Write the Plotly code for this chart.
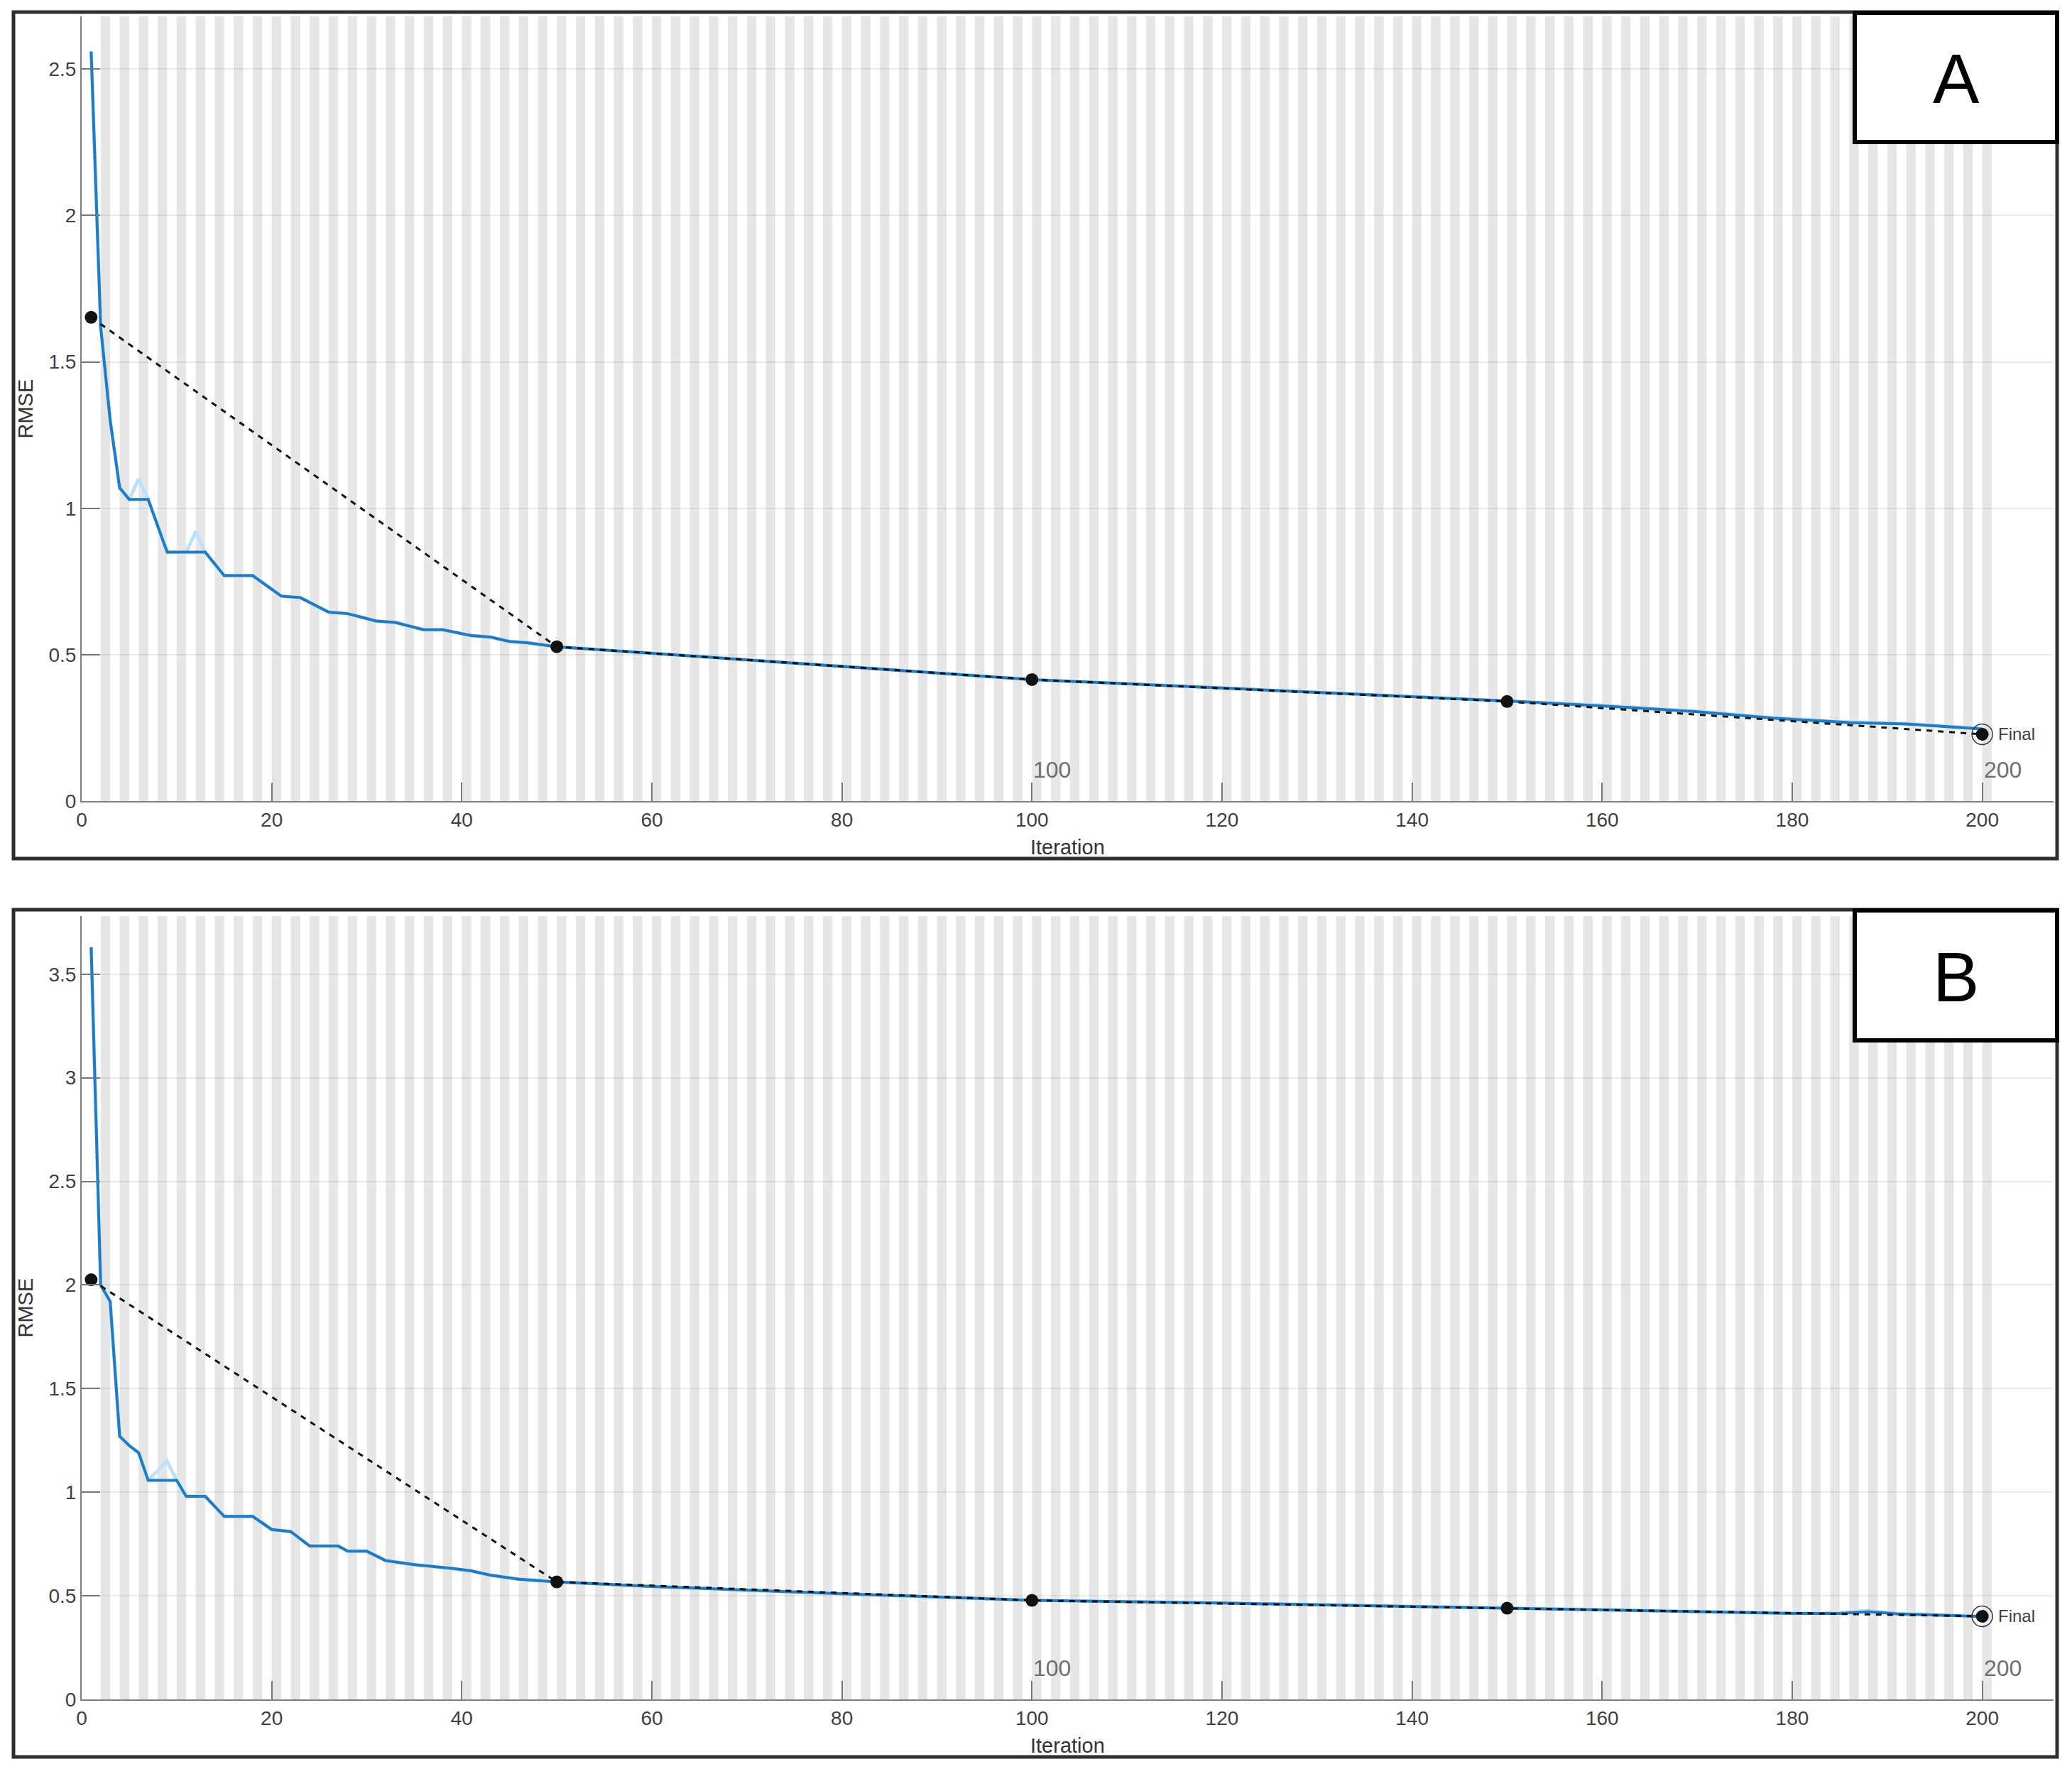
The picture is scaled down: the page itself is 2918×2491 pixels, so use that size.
import plotly.graph_objects as go

W, H = 2918, 2491
OFF = 8                       # default body margin of the page
FW, FH = W - 2 * OFF, H - 2 * OFF

# ---------------- Data ----------------
# Panel A - training RMSE (smoothed, dark blue)
a_train_iter = [1, 2, 3, 4, 5, 7, 9, 13, 15, 18, 21, 23, 26, 28, 31, 33, 36, 38, 41, 43, 45, 47, 50,
                60, 80, 100, 120, 140, 150, 160, 170, 178, 186, 192, 200]
a_train_rmse = [2.56, 1.62, 1.30, 1.07, 1.03, 1.03, 0.85, 0.85, 0.77, 0.77, 0.70, 0.695, 0.645, 0.64,
                0.615, 0.61, 0.585, 0.585, 0.565, 0.56, 0.545, 0.54, 0.527,
                0.505, 0.46, 0.415, 0.386, 0.357, 0.342, 0.325, 0.305, 0.283, 0.268, 0.263, 0.246]
# Panel A - training RMSE (raw, light blue)
a_raw_iter = [1, 2, 3, 4, 5, 6, 7, 9, 11, 12, 13, 15, 18, 21, 23, 26, 28, 31, 33, 36, 38, 41, 43, 45, 47, 50,
              60, 80, 100, 120, 140, 150, 160, 170, 178, 186, 192, 200]
a_raw_rmse = [2.56, 1.62, 1.30, 1.07, 1.03, 1.10, 1.03, 0.85, 0.85, 0.92, 0.85, 0.77, 0.77, 0.70, 0.695,
              0.645, 0.64, 0.615, 0.61, 0.585, 0.585, 0.565, 0.56, 0.545, 0.54, 0.527,
              0.505, 0.46, 0.415, 0.386, 0.357, 0.342, 0.327, 0.307, 0.285, 0.27, 0.265, 0.248]
# Panel A - validation RMSE
a_val_iter = [1, 50, 100, 150, 200]
a_val_rmse = [1.652, 0.527, 0.415, 0.340, 0.228]

# Panel B - training RMSE (smoothed)
b_train_iter = [1, 2, 3, 4, 5, 6, 7, 10, 11, 13, 15, 18, 20, 22, 24, 27, 28, 30, 32, 35, 39, 41, 43, 46, 50,
                60, 80, 100, 120, 150, 170, 180, 185, 188, 191, 200]
b_train_rmse = [3.63, 2.00, 1.92, 1.27, 1.225, 1.19, 1.057, 1.057, 0.98, 0.98, 0.883, 0.883, 0.82, 0.81,
                0.74, 0.74, 0.715, 0.715, 0.67, 0.65, 0.632, 0.62, 0.60, 0.58, 0.567,
                0.545, 0.51, 0.478, 0.465, 0.44, 0.425, 0.415, 0.415, 0.423, 0.413, 0.40]
# Panel B - training RMSE (raw)
b_raw_iter = [1, 2, 3, 4, 5, 6, 7, 9, 10, 11, 13, 15, 18, 20, 22, 24, 27, 28, 30, 32, 35, 39, 41, 43, 46, 50,
              60, 80, 100, 120, 150, 170, 180, 185, 188, 191, 200]
b_raw_rmse = [3.63, 2.00, 1.92, 1.27, 1.225, 1.19, 1.057, 1.15, 1.057, 0.98, 0.98, 0.883, 0.883, 0.82, 0.81,
              0.74, 0.74, 0.715, 0.715, 0.67, 0.65, 0.632, 0.62, 0.60, 0.58, 0.567,
              0.545, 0.51, 0.478, 0.465, 0.44, 0.425, 0.417, 0.418, 0.428, 0.415, 0.402]
# Panel B - validation RMSE
b_val_iter = [1, 50, 100, 150, 200]
b_val_rmse = [2.025, 0.567, 0.478, 0.440, 0.401]

x_ticks = [0, 20, 40, 60, 80, 100, 120, 140, 160, 180, 200]
panel_labels = ["A", "B"]
epoch_labels = ["100", "200"]
epoch_label_x = [100, 200]

# ---------------- Layout geometry (page pixels) ----------------
def px(x):
    return (x - OFF) / FW

def py(y):
    return 1 - (y - OFF) / FH

FONT = "Liberation Sans, Arial, sans-serif"
TICK_COLOR = "#404040"

panels = [
    dict(xa="x", ya="y", top=23, bottom=1128, yrange=[0, 2.68], ydt=0.5,
         frame=(19, 17, 2897, 1209), box=(2612, 18, 2897, 200), ititle=1193,
         train=(a_train_iter, a_train_rmse), raw=(a_raw_iter, a_raw_rmse), val=(a_val_iter, a_val_rmse)),
    dict(xa="x2", ya="y2", top=1290, bottom=2393, yrange=[0, 3.78], ydt=0.5,
         frame=(19, 1281, 2897, 2474), box=(2612, 1282, 2897, 1465), ititle=2458,
         train=(b_train_iter, b_train_rmse), raw=(b_raw_iter, b_raw_rmse), val=(b_val_iter, b_val_rmse)),
]

X_LEFT, X_RIGHT = 115, 2892
X_RANGE = [0, 207.5]

fig = go.Figure()
shapes = []
annotations = []

for i, p in enumerate(panels):
    xa, ya = p["xa"], p["ya"]
    fig.add_trace(go.Scatter(x=p["raw"][0], y=p["raw"][1], mode="lines", xaxis=xa, yaxis=ya,
                             line=dict(color="#bfe0f8", width=5), showlegend=False, hoverinfo="skip"))
    fig.add_trace(go.Scatter(x=p["train"][0], y=p["train"][1], mode="lines", xaxis=xa, yaxis=ya,
                             line=dict(color="#1c7cc8", width=4), showlegend=False))
    fig.add_trace(go.Scatter(x=p["val"][0], y=p["val"][1], mode="lines+markers", xaxis=xa, yaxis=ya,
                             line=dict(color="#111111", width=3, dash="8px,8px"),
                             marker=dict(color="#111111", size=18), showlegend=False))
    fig.add_trace(go.Scatter(x=[p["val"][0][-1]], y=[p["val"][1][-1]], mode="markers", xaxis=xa, yaxis=ya,
                             marker=dict(symbol="circle-open", size=29, color="#333333",
                                         line=dict(width=1.5, color="#333333")),
                             showlegend=False))

    for k in range(1, 101):
        shapes.append(dict(type="rect", xref=xa, yref=ya + " domain", x0=2 * k, x1=2 * k + 1,
                           y0=0, y1=1, fillcolor="#e6e6e6", line=dict(width=0), layer="below"))
    fx0, fy0, fx1, fy1 = p["frame"]
    shapes.append(dict(type="rect", xref="paper", yref="paper", x0=px(fx0), x1=px(fx1),
                       y0=py(fy1), y1=py(fy0), line=dict(color="#2e2e2e", width=5),
                       fillcolor="rgba(0,0,0,0)", layer="above"))
    bx0, by0, bx1, by1 = p["box"]
    shapes.append(dict(type="rect", xref="paper", yref="paper", x0=px(bx0), x1=px(bx1),
                       y0=py(by1), y1=py(by0), line=dict(color="#000000", width=6),
                       fillcolor="#ffffff", layer="above"))
    annotations.append(dict(text=panel_labels[i], xref="paper", yref="paper",
                            x=px((bx0 + bx1) / 2), y=py((by0 + by1) / 2 + 2),
                            xanchor="center", yanchor="middle", showarrow=False,
                            font=dict(family=FONT, size=98, color="#000000")))
    for lab, lx in zip(epoch_labels, epoch_label_x):
        annotations.append(dict(text=lab, xref=xa, yref=ya, x=lx, y=0, xanchor="left", yanchor="bottom",
                                xshift=0, yshift=24, showarrow=False,
                                font=dict(family=FONT, size=32, color="#6f6f6f")))
    annotations.append(dict(text="Final", xref=xa, yref=ya, x=p["val"][0][-1], y=p["val"][1][-1],
                            xanchor="left", yanchor="middle", xshift=20, showarrow=False,
                            font=dict(family=FONT, size=24, color="#404040")))
    annotations.append(dict(text="RMSE", xref="paper", yref="paper", x=px(35),
                            y=py((p["top"] + p["bottom"]) / 2), textangle=-90,
                            xanchor="center", yanchor="middle", showarrow=False,
                            font=dict(family=FONT, size=29, color="#333333")))
    annotations.append(dict(text="Iteration", xref="paper", yref="paper", x=px((X_LEFT + X_RIGHT) / 2),
                            y=py(p["ititle"]), xanchor="center", yanchor="middle", showarrow=False,
                            font=dict(family=FONT, size=29, color="#333333")))

axis_common = dict(showline=True, linecolor="#808080", linewidth=2, ticks="inside", ticklen=26,
                   tickwidth=2, tickcolor="#777777", zeroline=False, automargin=False,
                   tickfont=dict(family=FONT, size=28, color=TICK_COLOR))

layout = dict(
    width=FW, height=FH, margin=dict(l=0, r=0, t=0, b=0, pad=0, autoexpand=False),
    paper_bgcolor="white", plot_bgcolor="white", showlegend=False,
    shapes=shapes, annotations=annotations,
)
for i, p in enumerate(panels):
    sfx = "" if i == 0 else "2"
    layout["xaxis" + sfx] = dict(domain=[px(X_LEFT), px(X_RIGHT)], anchor=p["ya"], range=X_RANGE,
                                 tickvals=x_ticks, showgrid=False, **axis_common)
    layout["yaxis" + sfx] = dict(domain=[py(p["bottom"]), py(p["top"])], anchor=p["xa"], range=p["yrange"],
                                 dtick=p["ydt"], tick0=0, showgrid=True, gridcolor="rgba(0,0,0,0.08)",
                                 gridwidth=2, **axis_common)

fig.update_layout(**layout)
fig.write_html("out.html", config={"displayModeBar": False})
